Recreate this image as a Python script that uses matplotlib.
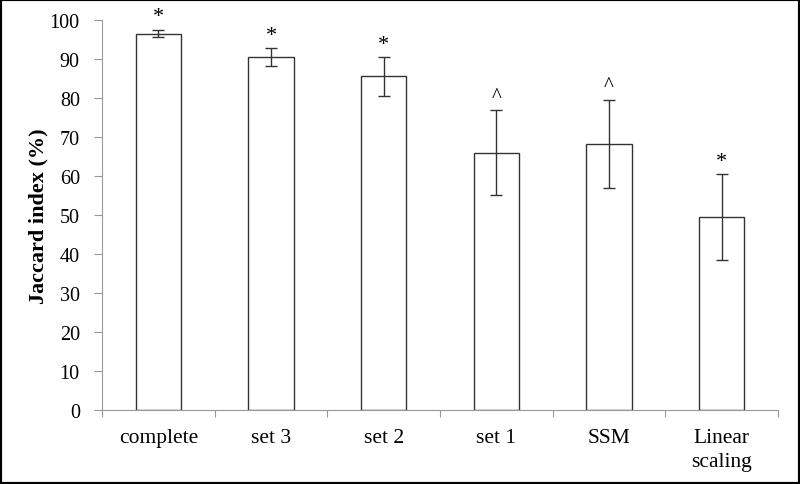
import matplotlib.pyplot as plt
from matplotlib.patches import Rectangle

# datos
categorias = ['complete', 'set 3', 'set 2', 'set 1', 'SSM', 'Linear\nscaling']
valores = [96.5, 90.5, 85.5, 66.0, 68.3, 49.4]
errores = [1.0, 2.3, 5.0, 10.8, 11.3, 11.0]
marcas = ['*', '*', '*', '^', '^', '*']

plt.rcParams['font.family'] = ['Liberation Serif', 'DejaVu Serif']

fig = plt.figure(figsize=(8, 4.85), dpi=100)
ax = fig.add_axes([0.1275, 0.152, 0.845, 0.805])

x = range(len(categorias))
ax.bar(x, valores, width=0.4, color='white', edgecolor='#333333', linewidth=1.0,
       yerr=errores, error_kw=dict(ecolor='#333333', elinewidth=1.0, capsize=4, capthick=1.0))

for i in x:
    tope = valores[i] + errores[i]
    if marcas[i] == '*':
        ax.text(i, tope + 0.8, '*', ha='center', va='bottom', fontsize=16)
    else:
        ax.text(i, tope + 1.2, '^', ha='center', va='bottom', fontsize=15)

ax.set_xlim(-0.5, len(categorias) - 0.5)
ax.set_ylim(0, 100)
ax.set_yticks(range(0, 101, 10))
ax.set_xticks([i + 0.5 for i in range(-1, len(categorias))])
ax.set_xticklabels([])
ax.set_xticks(list(x), minor=True)
ax.set_xticklabels(categorias, minor=True, fontsize=15.5, linespacing=1.3)
ax.tick_params(axis='x', which='minor', length=0, pad=13)
ax.tick_params(axis='x', which='major', length=5, color='#999999')
ax.tick_params(axis='y', length=6, color='#999999', labelsize=14.5, pad=10)
ax.set_ylabel('Jaccard index (%)', fontsize=16, fontweight='bold', labelpad=1)

for lado in ['top', 'right']:
    ax.spines[lado].set_visible(False)
ax.spines['left'].set_color('#999999')
ax.spines['bottom'].set_color('#999999')

fig.patches.append(Rectangle((0, 0), 1, 1, transform=fig.transFigure, fill=False,
                             edgecolor='black', linewidth=3))

fig.savefig('out.png', dpi=100)
